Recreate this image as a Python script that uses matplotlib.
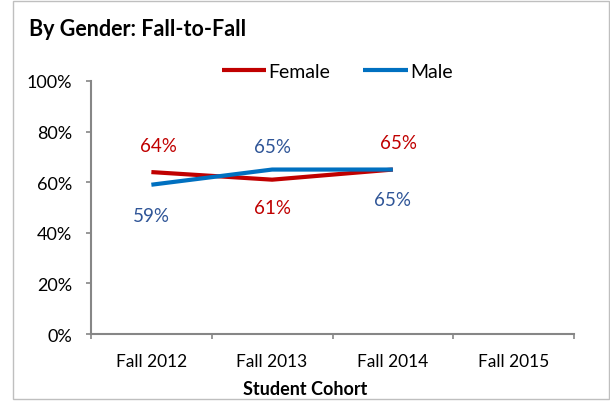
import matplotlib.pyplot as plt
from matplotlib.patches import Rectangle
import numpy as np

plt.rcParams['font.family'] = ['Lato', 'DejaVu Sans']

cohorts = ['Fall 2012', 'Fall 2013', 'Fall 2014', 'Fall 2015']
female = [64, 61, 65]
male = [59, 65, 65]

red = '#C00000'
blue = '#0070C0'
blue_txt = '#2F5597'
axis_gray = '#868686'

W, H = 610, 402
PX = 72 / 100  # points per pixel at dpi 100

fig = plt.figure(figsize=(W / 100, H / 100), dpi=100)
ax = fig.add_axes([91 / W, 1 - 335 / H, (574 - 91) / W, (335 - 82) / H])

x = np.arange(len(female))
ax.plot(x, female, color=red, lw=3, solid_capstyle='butt', label='Female', zorder=3)
ax.plot(x, male, color=blue, lw=3, solid_capstyle='butt', label='Male', zorder=4)

# label offsets in pixels (dx, dy up)
female_off = [(7, 27), (0, -28), (6, 27)]
male_off = [(0, -31), (0, 23), (0, -30)]
for xi, v, (dx, dy) in zip(x, female, female_off):
    ax.annotate(f'{v}%', (xi, v), xytext=(dx * PX, dy * PX), textcoords='offset points',
                ha='center', va='center', color=red, fontsize=13.5)
for xi, v, (dx, dy) in zip(x, male, male_off):
    ax.annotate(f'{v}%', (xi, v), xytext=(dx * PX, dy * PX), textcoords='offset points',
                ha='center', va='center', color=blue_txt, fontsize=13.5)

ax.set_xlim(-0.5, len(cohorts) - 0.5)
ax.set_ylim(0, 100)
ax.set_yticks(range(0, 101, 20))
ax.set_yticklabels([f'{v}%' for v in range(0, 101, 20)], fontsize=13)
ax.set_xticks(np.arange(len(cohorts)))
ax.set_xticklabels(cohorts, fontsize=12.5)
ax.set_xticks(np.arange(len(cohorts) + 1) - 0.5, minor=True)
ax.tick_params(axis='x', which='major', length=0, pad=14)
ax.tick_params(axis='x', which='minor', length=5 * PX, color=axis_gray, width=1.2)
ax.tick_params(axis='y', length=5 * PX, color=axis_gray, width=1.2, pad=10)

for s in ['top', 'right']:
    ax.spines[s].set_visible(False)
for s in ['left', 'bottom']:
    ax.spines[s].set_color(axis_gray)
    ax.spines[s].set_linewidth(1.5)

ax.set_xlabel('Student Cohort', fontsize=13, fontweight='bold')
ax.xaxis.set_label_coords((305 - 91) / (574 - 91), -(390 - 335) / (335 - 82))
ax.xaxis.label.set_va('center')

fig.text(29 / W, 1 - 29 / H, 'By Gender: Fall-to-Fall', fontsize=15.5,
         fontweight='bold', va='center', ha='left')

fig.legend(loc='center', bbox_to_anchor=(337 / W, 1 - 72 / H), ncol=2, frameon=False,
           fontsize=14, handlelength=2.3, handletextpad=0.1, columnspacing=1.7,
           borderpad=0, borderaxespad=0)

fig.patches.append(Rectangle((13 / W, 2 / H), (609 - 13) / W, (400 - 2) / H,
                             transform=fig.transFigure, fill=False,
                             edgecolor='#BFBFBF', lw=1))

fig.savefig('out.png', dpi=100)
